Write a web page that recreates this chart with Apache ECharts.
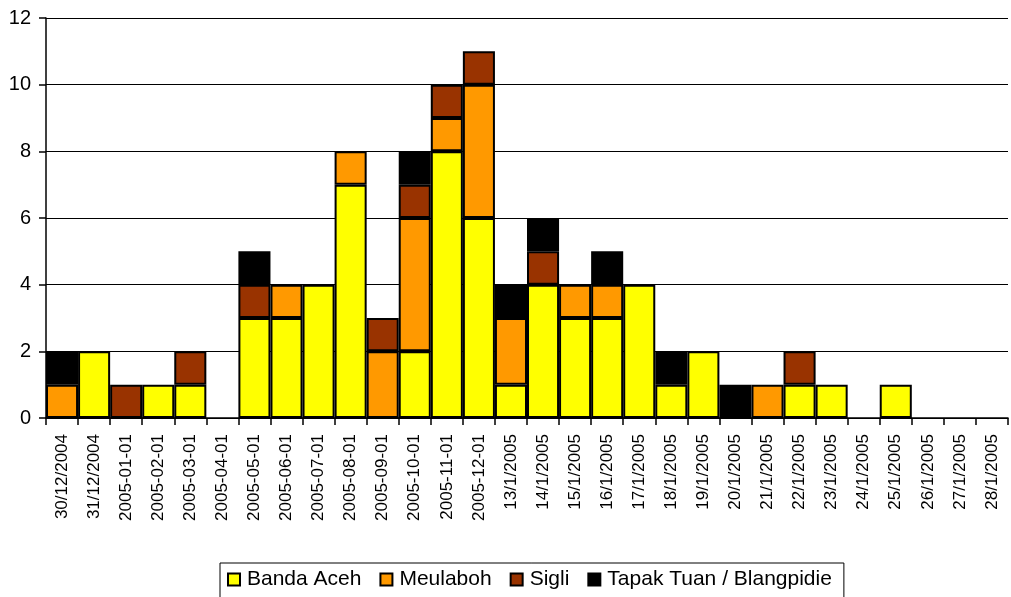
<!DOCTYPE html>
<html><head><meta charset="utf-8">
<script src="https://cdn.jsdelivr.net/npm/echarts@6/dist/echarts.min.js"></script>
<style>html,body{margin:0;padding:0;background:#fff}#c{width:1011px;height:597px}</style>
</head><body><div id="c"></div>
<script>
const categories = ["30/12/2004","31/12/2004","2005-01-01","2005-02-01","2005-03-01","2005-04-01","2005-05-01","2005-06-01","2005-07-01","2005-08-01","2005-09-01","2005-10-01","2005-11-01","2005-12-01","13/1/2005","14/1/2005","15/1/2005","16/1/2005","17/1/2005","18/1/2005","19/1/2005","20/1/2005","21/1/2005","22/1/2005","23/1/2005","24/1/2005","25/1/2005","26/1/2005","27/1/2005","28/1/2005"];
const bandaAceh = [0,2,0,1,1,0,3,3,4,7,0,2,8,6,1,4,3,3,4,1,2,0,0,1,1,0,1,0,0,0];
const meulaboh  = [1,0,0,0,0,0,0,1,0,1,2,4,1,4,2,0,1,1,0,0,0,0,1,0,0,0,0,0,0,0];
const sigli     = [0,0,1,0,1,0,1,0,0,0,1,1,1,1,0,1,0,0,0,0,0,0,0,1,0,0,0,0,0,0];
const tapakTuan = [1,0,0,0,0,0,1,0,0,0,0,1,0,0,1,1,0,1,0,1,0,1,0,0,0,0,0,0,0,0];
const seriesNames = ["Banda Aceh","Meulaboh","Sigli","Tapak Tuan / Blangpidie"];
const colors = ["#FFFF00","#FF9900","#993300","#000000"];
const values = [bandaAceh, meulaboh, sigli, tapakTuan];

const chart = echarts.init(document.getElementById('c'));
chart.setOption({
  animation:false,
  grid:{left:46,right:3,top:18,bottom:179,containLabel:false},
  legend:{
    top:563,left:220,icon:'rect',
    itemWidth:12,itemHeight:12,itemGap:18,
    borderColor:'#000',borderWidth:1,padding:[6,12,14,7],
    textStyle:{fontFamily:'Liberation Sans, Arial',fontSize:21,color:'#000',padding:[0,0,0,2]},
    itemStyle:{borderColor:'#000',borderWidth:2}
  },
  xAxis:{
    type:'category',data:categories,
    axisLine:{lineStyle:{color:'#000',width:1.5}},
    axisTick:{show:true,length:7,lineStyle:{color:'#000',width:1.5}},
    axisLabel:{rotate:90,interval:0,fontFamily:'Liberation Sans, Arial',fontSize:17,color:'#000',margin:16}
  },
  yAxis:{
    type:'value',min:0,max:12,interval:2,
    axisLine:{show:true,lineStyle:{color:'#000',width:1.5}},
    axisTick:{show:true,length:7,lineStyle:{color:'#000',width:1.5}},
    splitLine:{lineStyle:{color:'#000',width:1}},
    axisLabel:{fontFamily:'Liberation Sans, Arial',fontSize:20,color:'#000',margin:15}
  },
  series: seriesNames.map((n,i)=>({
    name:n,type:'bar',stack:'total',barCategoryGap:'0%',
    data:values[i].map(v=>v===0?null:v),
    itemStyle:{color:colors[i],borderColor:'#000',borderWidth:2}
  }))
});
</script></body></html>
